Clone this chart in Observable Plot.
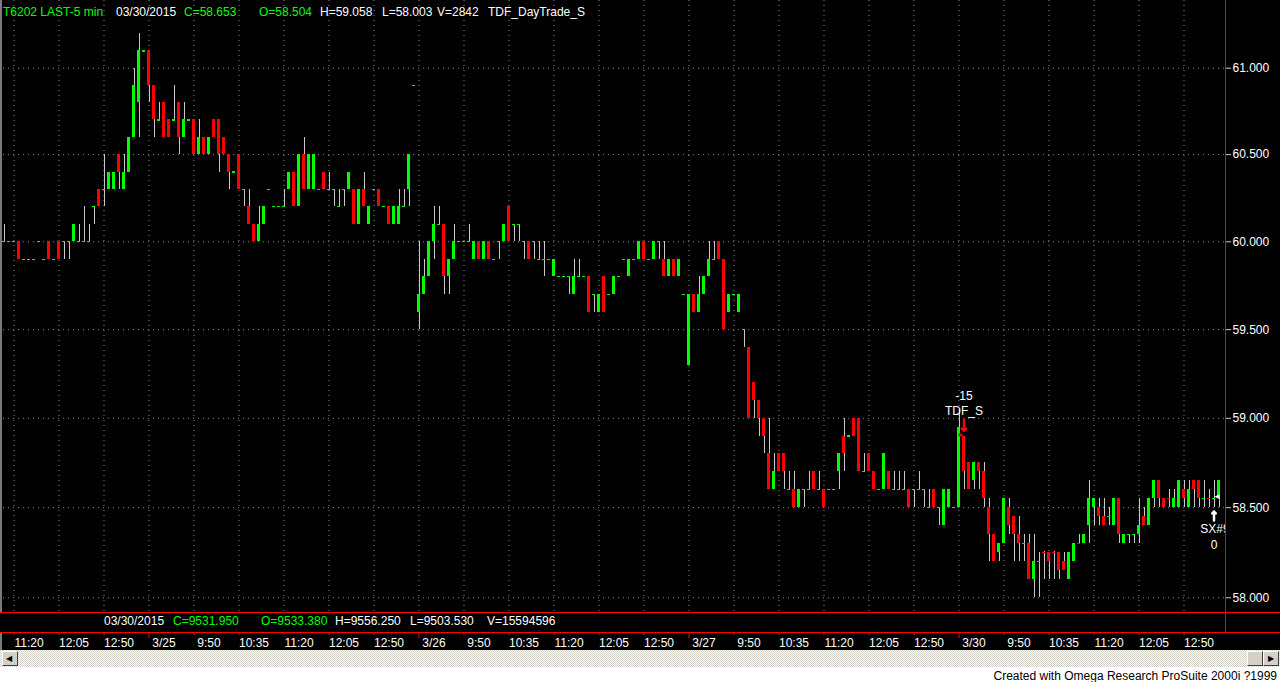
<!DOCTYPE html>
<html><head><meta charset="utf-8">
<script src="https://cdn.jsdelivr.net/npm/d3@7"></script>
<script src="https://cdn.jsdelivr.net/npm/@observablehq/plot@0.6"></script>
<style>
html,body{margin:0;padding:0;background:#fff;width:1280px;height:682px;overflow:hidden;font-family:"Liberation Sans",Arial,sans-serif;font-size:12px}
#wrap{position:absolute;left:0;top:0;width:1280px;height:650px;background:#000;overflow:hidden}
#chart{position:absolute;left:0;top:0}
.t{position:absolute;white-space:pre;line-height:14px;font-size:12px;color:#fff}
.g{color:#00ff00}
#sub{position:absolute;left:0;top:612px;width:1280px;height:19px;background:#000;border-top:1px solid #ff0000;border-bottom:1px solid #ff0000}
#vline{position:absolute;left:1225px;top:0;width:1px;height:633px;background:#ff0000}
#lborder{position:absolute;left:0;top:0;width:2px;height:650px;background:#7a7a7a}
#scroll{position:absolute;left:0;top:650px;width:1280px;height:17px;background:repeating-conic-gradient(#ffffff 0 25%,#d4d0c8 0 50%) 0 0/2px 2px}
.btn{position:absolute;top:1px;width:14px;height:13px;background:#d4d0c8;border-top:1px solid #fff;border-left:1px solid #fff;border-right:1px solid #404040;border-bottom:1px solid #404040}
.btn span{position:absolute;top:0;left:3px;font-size:8px;line-height:13px;color:#000;font-family:"DejaVu Sans",sans-serif}
#foot{position:absolute;left:0;top:669px;width:1277px;height:13px;text-align:right;font-size:12px;line-height:14px;color:#000;background:#fff}
</style></head><body>
<div id="wrap">
  <div id="chart"></div>
  <div id="lborder"></div>
  <div id="sub"></div>
  <div id="vline"></div>
</div>
<div id="scroll">
  <div class="btn" style="left:2px"><span>&#9664;</span></div>
  <div class="btn" style="left:1247px"></div>
  <div class="btn" style="left:1263px"><span style="left:4px">&#9654;</span></div>
</div>
<div id="foot">Created with Omega Research ProSuite 2000i ?1999</div>
<script>
// ---- header / status texts ----
const headerItems = [
  ["T6202 LAST-5 min", 3, true], ["03/30/2015", 116, false], ["C=58.653", 184, true],
  ["O=58.504", 259, true], ["H=59.058", 320, false], ["L=58.003", 382, false],
  ["V=2842", 437, false], ["TDF_DayTrade_S", 488, false]
];
const subItems = [
  ["03/30/2015", 104, false], ["C=9531.950", 173, true], ["O=9533.380", 261, true],
  ["H=9556.250", 335, false], ["L=9503.530", 410, false], ["V=15594596", 487, false]
];

// ---- 5-minute bars (index 0 = 3/24 11:10 ... 243 = 3/30 13:25) ----
const open = [
60.0,60.0,60.0,60.0,59.9,59.9,59.9,60.0,59.9,60.0,
59.9,60.0,60.0,60.0,60.0,60.0,60.0,60.0,60.2,60.3,
60.3,60.3,60.3,60.5,60.3,60.4,60.6,60.8,61.1,61.1,
60.9,60.7,60.8,60.7,60.7,60.8,60.6,60.7,60.7,60.5,
60.6,60.5,60.7,60.7,60.6,60.5,60.4,60.5,60.3,60.2,
60.1,60.0,60.1,60.3,60.2,60.2,60.2,60.3,60.4,60.2,
60.5,60.3,60.3,60.3,60.4,60.3,60.3,60.2,60.3,60.3,
60.3,60.1,60.3,60.1,60.3,60.3,60.2,60.2,60.1,60.1,
60.2,60.3,60.9,59.6,59.7,59.8,60.0,60.1,60.1,59.8,
59.9,60.0,60.0,60.0,59.9,60.0,59.9,60.0,59.9,60.0,
60.0,60.2,60.1,60.1,60.0,60.0,60.0,59.9,59.9,59.9,
59.8,59.8,59.8,59.8,59.7,59.8,59.8,59.8,59.7,59.6,
59.8,59.7,59.7,59.8,59.9,59.8,59.9,59.9,60.0,59.9,
59.9,60.0,59.9,59.8,59.9,59.8,59.7,59.3,59.7,59.6,
59.7,59.8,59.9,60.0,59.9,59.6,59.7,59.6,59.5,59.4,
59.2,59.1,59.0,58.8,58.6,58.8,58.8,58.6,58.6,58.5,
58.6,58.6,58.7,58.6,58.6,58.6,58.6,58.7,58.9,58.9,
59.0,59.0,58.7,58.8,58.7,58.6,58.6,58.7,58.6,58.6,
58.6,58.6,58.6,58.6,58.6,58.5,58.6,58.5,58.4,58.5,
58.5,58.5,58.9,58.75,58.65,58.75,58.7,58.5,58.35,58.25,
58.3,58.5,58.45,58.35,58.3,58.3,58.1,58.2,58.255,58.25,
58.255,58.25,58.2,58.1,58.2,58.305,58.3,58.4,58.5,58.5,
58.45,58.45,58.4,58.55,58.3,58.35,58.35,58.35,58.45,58.4,
58.55,58.65,58.55,58.555,58.5,58.5,58.6,58.5,58.65,58.65,
58.55,58.555,58.55,58.55];
const high = [
60.1,60.0,60.0,60.0,59.9,59.9,59.9,60.0,59.9,60.0,
59.9,60.0,60.0,60.0,60.1,60.1,60.2,60.1,60.2,60.3,
60.5,60.4,60.4,60.5,60.5,60.6,61.0,61.2,61.1,61.1,
60.9,60.8,60.8,60.7,60.9,60.8,60.8,60.7,60.7,60.7,
60.6,60.6,60.7,60.7,60.6,60.5,60.4,60.5,60.3,60.3,
60.1,60.2,60.2,60.3,60.2,60.2,60.3,60.4,60.4,60.5,
60.6,60.5,60.5,60.3,60.4,60.4,60.3,60.3,60.3,60.4,
60.3,60.3,60.4,60.2,60.3,60.3,60.2,60.2,60.2,60.3,
60.3,60.5,60.9,60.0,59.9,60.0,60.2,60.2,60.1,59.9,
60.1,60.0,60.0,60.1,60.0,60.0,60.0,60.0,59.9,60.0,
60.1,60.2,60.1,60.1,60.0,60.0,60.0,60.0,60.0,59.9,
59.9,59.8,59.8,59.8,59.9,59.9,59.8,59.8,59.7,59.7,
59.8,59.7,59.8,59.8,59.9,59.9,59.9,60.0,60.0,59.9,
60.0,60.0,60.0,59.9,59.9,59.9,59.7,59.7,59.7,59.8,
59.8,60.0,60.0,60.0,59.9,59.7,59.7,59.7,59.5,59.4,
59.2,59.1,59.0,59.0,58.8,58.8,58.8,58.7,58.7,58.6,
58.6,58.7,58.7,58.7,58.6,58.6,58.6,58.8,59.0,58.9,
59.0,59.0,58.8,58.8,58.7,58.6,58.8,58.7,58.7,58.7,
58.7,58.6,58.6,58.7,58.6,58.6,58.6,58.5,58.6,58.6,
58.5,59.05,58.9,58.75,58.75,58.75,58.75,58.55,58.35,58.3,
58.55,58.55,58.45,58.45,58.35,58.35,58.35,58.25,58.255,58.25,
58.255,58.25,58.25,58.25,58.3,58.35,58.35,58.65,58.55,58.55,
58.55,58.5,58.55,58.55,58.35,58.35,58.35,58.55,58.5,58.55,
58.65,58.65,58.55,58.6,58.6,58.65,58.65,58.65,58.65,58.65,
58.65,58.6,58.65,58.65];
const low = [
60.0,60.0,60.0,59.9,59.9,59.9,59.9,60.0,59.9,59.9,
59.9,59.9,59.9,59.9,60.0,60.0,60.0,60.0,60.1,60.2,
60.2,60.3,60.3,60.3,60.3,60.4,60.6,60.6,61.1,60.8,
60.6,60.7,60.6,60.6,60.7,60.5,60.6,60.7,60.5,60.5,
60.5,60.5,60.6,60.4,60.5,60.3,60.4,60.3,60.2,60.1,
60.0,60.0,60.1,60.3,60.2,60.2,60.2,60.3,60.2,60.2,
60.3,60.3,60.3,60.3,60.3,60.3,60.2,60.2,60.2,60.3,
60.1,60.1,60.2,60.1,60.3,60.2,60.2,60.1,60.1,60.1,
60.2,60.2,60.9,59.5,59.7,59.8,59.9,60.1,59.7,59.7,
59.9,60.0,60.0,60.0,59.9,59.9,59.9,59.9,59.9,59.9,
60.0,60.0,60.0,60.0,59.9,59.9,59.9,59.9,59.8,59.9,
59.8,59.8,59.8,59.7,59.7,59.8,59.8,59.6,59.6,59.6,
59.6,59.7,59.7,59.8,59.9,59.8,59.9,59.9,59.9,59.9,
59.9,59.9,59.8,59.8,59.8,59.8,59.7,59.3,59.6,59.6,
59.7,59.8,59.9,59.9,59.5,59.6,59.7,59.6,59.4,59.0,
59.0,58.9,58.8,58.6,58.6,58.7,58.6,58.6,58.5,58.5,
58.5,58.6,58.6,58.6,58.5,58.6,58.6,58.6,58.7,58.9,
58.9,58.7,58.7,58.7,58.6,58.6,58.6,58.6,58.6,58.6,
58.6,58.5,58.5,58.6,58.5,58.5,58.5,58.4,58.4,58.5,
58.5,58.5,58.6,58.6,58.6,58.6,58.5,58.2,58.2,58.2,
58.3,58.35,58.2,58.2,58.2,58.1,58.0,58.0,58.1,58.1,
58.1,58.1,58.15,58.1,58.2,58.3,58.3,58.3,58.4,58.4,
58.4,58.4,58.4,58.3,58.3,58.3,58.3,58.3,58.4,58.4,
58.5,58.5,58.5,58.5,58.5,58.5,58.5,58.5,58.5,58.5,
58.5,58.5,58.5,58.5];
const close = [
60.0,60.0,60.0,59.9,59.9,59.9,59.9,60.0,59.9,59.9,
59.9,59.9,60.0,60.0,60.1,60.0,60.0,60.0,60.2,60.2,
60.3,60.4,60.4,60.4,60.4,60.6,60.9,61.1,61.1,60.9,
60.7,60.7,60.6,60.6,60.7,60.6,60.7,60.7,60.5,60.6,
60.5,60.6,60.6,60.5,60.5,60.4,60.4,60.3,60.3,60.1,
60.0,60.1,60.2,60.3,60.2,60.2,60.2,60.4,60.2,60.5,
60.3,60.5,60.5,60.3,60.3,60.3,60.3,60.2,60.3,60.4,
60.1,60.3,60.2,60.2,60.3,60.2,60.2,60.1,60.2,60.2,
60.2,60.5,60.9,59.7,59.8,60.0,60.1,60.1,59.8,59.9,
60.0,60.0,60.0,60.0,60.0,59.9,60.0,59.9,59.9,60.0,
60.1,60.0,60.1,60.1,60.0,59.9,60.0,59.9,59.9,59.9,
59.9,59.8,59.8,59.8,59.8,59.8,59.8,59.6,59.7,59.7,
59.6,59.7,59.8,59.8,59.9,59.9,59.9,60.0,59.9,59.9,
60.0,60.0,59.8,59.9,59.8,59.9,59.7,59.7,59.6,59.7,
59.8,59.9,59.9,59.9,59.5,59.7,59.7,59.7,59.5,59.0,
59.1,59.0,58.9,58.6,58.7,58.7,58.7,58.6,58.5,58.6,
58.6,58.6,58.6,58.6,58.5,58.6,58.6,58.8,58.8,58.9,
58.9,58.7,58.7,58.7,58.6,58.6,58.8,58.6,58.6,58.6,
58.6,58.5,58.6,58.6,58.6,58.5,58.5,58.5,58.6,58.6,
58.5,58.95,58.7,58.6,58.75,58.7,58.55,58.35,58.2,58.3,
58.55,58.4,58.35,58.3,58.3,58.1,58.2,58.2,58.25,58.2,
58.25,58.15,58.15,58.25,58.3,58.3,58.35,58.55,58.55,58.45,
58.4,58.45,58.55,58.35,58.35,58.35,58.35,58.4,58.4,58.55,
58.65,58.55,58.5,58.55,58.55,58.65,58.55,58.6,58.6,58.55,
58.55,58.55,58.55,58.65];

// ---- axis ticks ----
const priceTicks = [58.0, 58.5, 59.0, 59.5, 60.0, 60.5, 61.0];
const timeTickBar = [2,11,20,29,38,47,56,65,74,83,92,101,110,119,128,137,146,155,164,173,182,191,200,209,218,227,236];
const timeTickLabel = ["11:20","12:05","12:50","3/25","9:50","10:35","11:20","12:05","12:50","3/26","9:50","10:35","11:20","12:05","12:50","3/27","9:50","10:35","11:20","12:05","12:50","3/30","9:50","10:35","11:20","12:05","12:50"];

// ---- trade signals ----
const sigBar = [192, 242];
const sigPrice = [58.93, 58.478];
const sigLabel1 = ["-15", "SX#9"];
const sigLabel2 = ["TDF_S", "0"];
const sigDir = ["down", "up"];

// header html
const wrap = document.getElementById("wrap");
function addTexts(items, top) {
  for (const [s, left, green] of items) {
    const el = document.createElement("div");
    el.className = "t" + (green ? " g" : "");
    el.style.left = left + "px"; el.style.top = top + "px";
    el.textContent = s;
    wrap.appendChild(el);
  }
}
addTexts(headerItems, 5);
addTexts(subItems, 614);

const bars = open.map((o, i) => ({k: i, o, h: Math.max(high[i], o, close[i]), l: Math.min(low[i], o, close[i]), c: close[i]}));
const bodies = bars.filter(d => Math.abs(d.c - d.o) >= 0.02);
const flats = bars.filter(d => Math.abs(d.c - d.o) < 0.02);
const labelOf = new Map(timeTickBar.map((k, i) => [k, timeTickLabel[i]]));
const dayBars = timeTickBar.filter(k => labelOf.get(k).includes("/"));
const timeBars = timeTickBar.filter(k => !labelOf.get(k).includes("/"));
const sigs = sigBar.map((k, i) => ({k, p: sigPrice[i], a: sigLabel1[i], b: sigLabel2[i], dir: sigDir[i]}));
const sDown = sigs.filter(d => d.dir === "down");
const sUp = sigs.filter(d => d.dir === "up");

const GREEN = "#00ff00", RED = "#ff0000", WICK = "#c8c8c8", GRID = "#8a8a8a";

const chart = Plot.plot({
  width: 1280, height: 650,
  marginTop: 0, marginBottom: 17, marginLeft: 3, marginRight: 55,
  style: {background: "#000", color: "#fff", fontFamily: "'Liberation Sans', Arial, sans-serif", fontSize: "12px", overflow: "visible"},
  x: {type: "linear", domain: [0, 243], range: [3.5, 1218.5]},
  y: {type: "log", domain: [58, 61], range: [597.3, 67.7]},
  color: {type: "identity"},
  marks: [
    Plot.gridY(priceTicks, {stroke: GRID, strokeOpacity: 1, strokeDasharray: "1,4"}),
    Plot.gridX(timeTickBar, {stroke: GRID, strokeOpacity: 1, strokeDasharray: "1,4"}),
    Plot.ruleX(bars, {x: "k", y1: "l", y2: "h", stroke: WICK, shapeRendering: "crispEdges"}),
    Plot.rect(bodies, {x1: d => d.k - 0.3, x2: d => d.k + 0.3, y1: "o", y2: "c", fill: d => d.c > d.o ? GREEN : RED, shapeRendering: "crispEdges"}),
    Plot.ruleY(flats, {y: "c", x1: d => d.k - 0.3, x2: d => d.k + 0.3, stroke: d => d.c < d.o ? RED : GREEN, strokeWidth: 1.2, shapeRendering: "crispEdges"}),
    // price axis
    Plot.axisY(priceTicks, {anchor: "right", tickFormat: d3.format(".3f"), tickSize: 5, tickPadding: 2, stroke: "#d0d0d0", color: "#fff", fontSize: 12, label: null}),
    // time axis ticks
    Plot.axisX(timeBars, {anchor: "bottom", tickSize: 2, tickFormat: () => "", stroke: RED, color: "#fff", label: null}),
    Plot.axisX(dayBars, {anchor: "bottom", tickSize: 5, tickFormat: () => "", stroke: RED, color: "#fff", label: null}),
    // time axis labels
    Plot.axisX(timeTickBar, {anchor: "bottom", tickSize: 0, tickPadding: 5, tickFormat: k => labelOf.get(k), color: "#fff", fontSize: 12, dx: 15, textAnchor: "middle", label: null}),
    // signals
    Plot.vector(sDown, {x: "k", y: "p", length: 11, rotate: 180, anchor: "end", stroke: RED, strokeWidth: 2.5}),
    Plot.text(sDown, {x: "k", y: "p", text: () => "\u25BA", fill: RED, fontSize: 7, dx: -3, dy: 4}),
    Plot.text(sDown, {x: "k", y: "p", text: "b", fill: "#fff", fontSize: 12, dy: -20}),
    Plot.text(sDown, {x: "k", y: "p", text: "a", fill: "#fff", fontSize: 12, dy: -35}),
    Plot.vector(sUp, {x: "k", y: "p", length: 9, rotate: 0, anchor: "end", stroke: "#fff", strokeWidth: 2.5}),
    Plot.text(sUp, {x: "k", y: "p", text: () => "\u25C4", fill: "#fff", fontSize: 8, dx: 3, dy: -15}),
    Plot.text(sUp, {x: "k", y: "p", text: "a", fill: "#fff", fontSize: 12, dx: 1, dy: 18, clip: "frame"}),
    Plot.text(sUp, {x: "k", y: "p", text: "b", fill: "#fff", fontSize: 12, dy: 34, clip: "frame"})
  ]
});
document.getElementById("chart").appendChild(chart);
</script>
</body></html>
